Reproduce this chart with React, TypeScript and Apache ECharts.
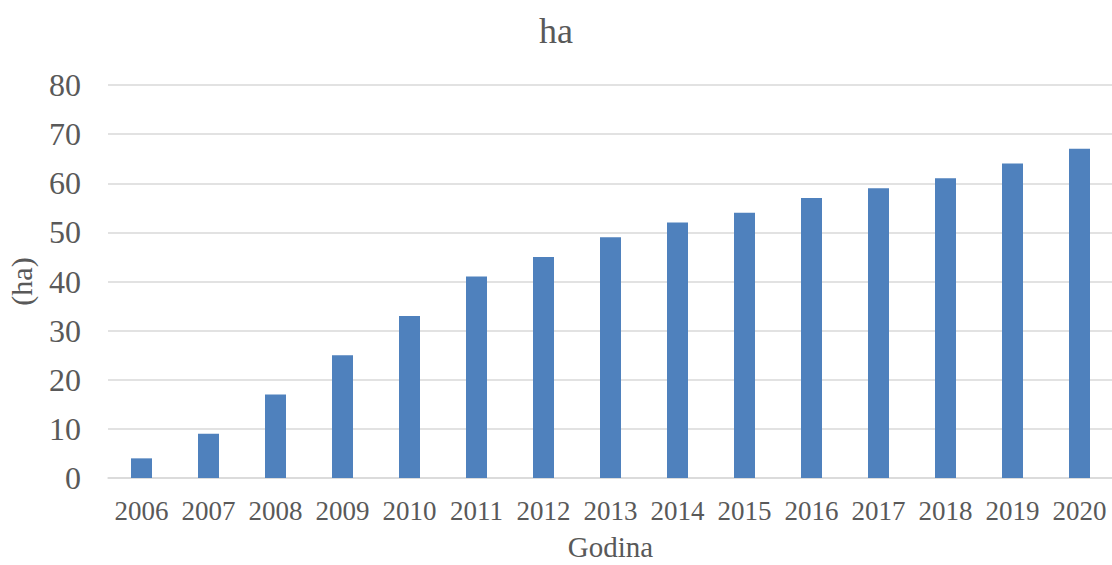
import React, { useEffect, useRef } from "react";
import * as echarts from "echarts";

const years = ["2006","2007","2008","2009","2010","2011","2012","2013","2014","2015","2016","2017","2018","2019","2020"];
const values = [4, 9, 17, 25, 33, 41, 45, 49, 52, 54, 57, 59, 61, 64, 67];
const titleText = "ha";
const xName = "Godina";
const yName = "(ha)";

const FONT = "'Liberation Serif', 'Times New Roman', serif";
const TEXT = "#595959";

export default function App() {
  const ref = useRef<HTMLDivElement>(null);
  useEffect(() => {
    document.body.style.margin = "0";
    const chart = echarts.init(ref.current!, undefined, { renderer: "svg" });
    chart.setOption({
      animation: false,
      backgroundColor: "#ffffff",
      title: {
        text: titleText,
        left: "center",
        top: 8,
        textStyle: { fontFamily: FONT, fontSize: 36, fontWeight: "normal", color: TEXT },
      },
      grid: { left: 108, right: -1, top: 85, bottom: 87, containLabel: false, outerBoundsMode: "none" },
      xAxis: {
        type: "category",
        data: years,
        name: xName,
        nameLocation: "middle",
        nameGap: 58,
        nameTextStyle: { fontFamily: FONT, fontSize: 29, lineHeight: 22, color: TEXT },
        axisLine: { show: true, lineStyle: { color: "#D9D9D9", width: 1.5 } },
        axisTick: { show: false },
        axisLabel: { fontFamily: FONT, fontSize: 27, color: TEXT, margin: 19, interval: 0 },
      },
      yAxis: {
        type: "value",
        min: 0,
        max: 80,
        interval: 10,
        name: yName,
        nameLocation: "middle",
        nameGap: 72,
        nameRotate: 90,
        nameTextStyle: { fontFamily: FONT, fontSize: 30, color: TEXT },
        axisLine: { show: false },
        axisTick: { show: false },
        axisLabel: { fontFamily: FONT, fontSize: 32, color: TEXT, margin: 27 },
        splitLine: { lineStyle: { color: "#D9D9D9", width: 1.5 } },
      },
      series: [
        {
          type: "bar",
          data: values,
          barWidth: 21,
          itemStyle: { color: "#4F81BD" },
        },
      ],
    });
    return () => chart.dispose();
  }, []);
  return <div ref={ref} style={{ width: 1112, height: 565, position: "absolute", left: 0, top: 0 }} />;
}
